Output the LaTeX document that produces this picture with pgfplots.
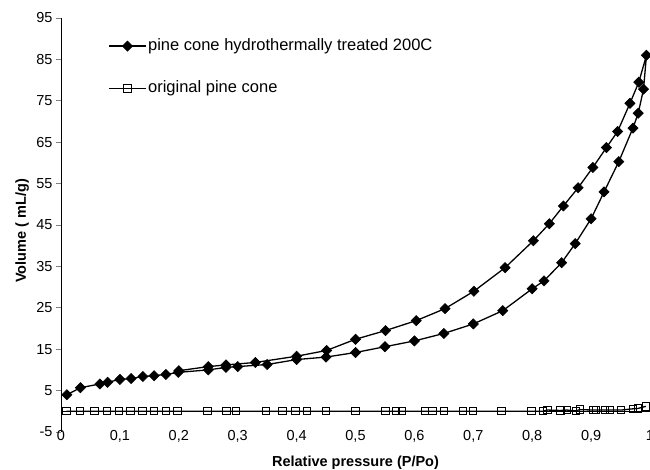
\documentclass[border=0pt]{standalone}
\usepackage{fontspec}
\setmainfont{Liberation Sans}
\usepackage{pgfplots}
\pgfplotsset{compat=1.18}
\begin{document}
\begin{tikzpicture}
\begin{axis}[
  scale only axis, width=589pt, height=414pt,
  xmin=0, xmax=1, ymin=-5, ymax=95,
  axis y line*=left, axis x line*=bottom,
  x axis line style={draw=none},
  y axis line style={line width=0.8pt},
  xtick={0,0.1,0.2,0.3,0.4,0.5,0.6,0.7,0.8,0.9,1},
  ytick={-5,5,15,25,35,45,55,65,75,85,95},
  xtick style={draw=none},
  ytick style={line width=0.8pt},
  tick align=outside, major tick length=5pt,
  /pgf/number format/assume math mode=true,
  /pgf/number format/use comma,
  xticklabel style={font=\fontsize{14.5}{16}\selectfont, anchor=center, yshift=1pt},
  yticklabel style={font=\fontsize{14.5}{16}\selectfont},
  xlabel={Relative pressure (P/Po)},
  ylabel={Volume ( mL/g)},
  xlabel style={font=\bfseries\fontsize{14.5}{16}\selectfont, at={(rel axis cs:0.5,-0.0745)}, anchor=center},
  ylabel style={font=\bfseries\fontsize{14.5}{16}\selectfont, at={(rel axis cs:-0.0662,0.486)}, anchor=center, rotate=0},
  legend style={draw=none, fill=none, at={(rel axis cs:0.08,0.955)}, anchor=north west,
    font=\fontsize{16.5}{18}\selectfont, row sep=24pt, inner sep=0pt,
    nodes={inner sep=1.5pt, text height=12pt, text depth=3.5pt}},
  legend cell align=left,
  legend image code/.code={\draw[#1, mark repeat=2, mark phase=2] plot coordinates {(0pt,0pt) (18.5pt,0pt) (37pt,0pt)};},
]
\addplot[black, line width=0.8pt, forget plot] coordinates {(0,0) (1,0)};
\addplot[black, line width=1.3pt, mark=square*, mark size=3.6pt, mark options={rotate=45, solid, fill=black, line width=0.6pt}] coordinates {
(0.010,4.0) (0.033,5.7) (0.066,6.6) (0.079,7.0) (0.100,7.7) (0.119,7.9) (0.139,8.4) (0.158,8.6) (0.178,8.9) (0.199,9.4)
(0.250,10.0) (0.280,10.6) (0.300,10.8) (0.350,11.3) (0.400,12.5) (0.450,13.1) (0.500,14.2) (0.550,15.6) (0.600,17.0)
(0.650,18.8) (0.700,21.1) (0.750,24.3) (0.800,29.6) (0.820,31.5) (0.850,35.9) (0.873,40.5) (0.900,46.5) (0.922,53.0)
(0.947,60.3) (0.971,68.4) (0.980,72.0) (0.989,77.8) (0.994,86.0)
(0.981,79.5) (0.966,74.4) (0.945,67.6) (0.926,63.7) (0.903,58.9) (0.878,54.0) (0.853,49.6) (0.829,45.3) (0.802,41.2)
(0.754,34.7) (0.701,29.0) (0.652,24.8) (0.603,21.9) (0.551,19.5) (0.500,17.4) (0.451,14.7) (0.400,13.3) (0.330,11.8)
(0.280,11.2) (0.250,10.8) (0.200,9.8)
};
\addlegendentry{pine cone hydrothermally treated 200C}
\addplot[black, line width=1.3pt, mark=square, mark size=3.7pt, mark options={fill=white, line width=1pt}] coordinates {
(0.009,0) (0.032,0) (0.057,0) (0.078,0) (0.098,0) (0.118,0) (0.138,0) (0.158,0) (0.178,0) (0.198,0)
(0.249,0) (0.281,0) (0.297,0) (0.348,0) (0.376,0) (0.398,0) (0.418,0) (0.450,0) (0.500,0) (0.551,0)
(0.569,0) (0.579,0) (0.618,0) (0.631,0) (0.650,0) (0.682,0) (0.699,0) (0.748,0) (0.799,0) (0.818,0)
(0.826,0.3) (0.848,0.2) (0.859,0.3) (0.874,0.1) (0.881,0.4) (0.904,0.3) (0.908,0.3) (0.924,0.3) (0.932,0.3)
(0.951,0.3) (0.971,0.6) (0.980,0.7) (0.993,1.2)
};
\addlegendentry{original pine cone}
\coordinate (bbSW) at (rel axis cs:-0.1036,-0.0918);
\coordinate (bbNE) at (rel axis cs:1,1.0435);
\end{axis}
\pgfresetboundingbox
\path[use as bounding box] (bbSW) rectangle (bbNE);
\end{tikzpicture}
\end{document}
